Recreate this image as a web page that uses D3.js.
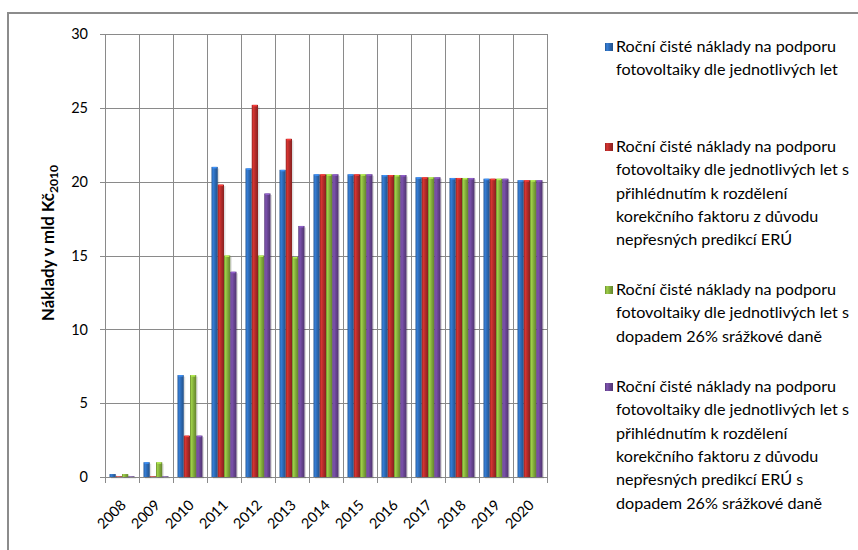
<!DOCTYPE html>
<html><head><meta charset="utf-8">
<script src="https://cdn.jsdelivr.net/npm/d3@7"></script>
<style>body{margin:0;background:#fff} svg{display:block}</style>
</head><body>
<svg id="c" width="858" height="550"></svg>
<script>
const years = ["2008","2009","2010","2011","2012","2013","2014","2015","2016","2017","2018","2019","2020"];
const blueValues   = [0.2, 1.0, 6.9, 21.0, 20.9, 20.8, 20.5, 20.5, 20.45, 20.3, 20.25, 20.2, 20.1];
const redValues    = [0.05, 0.05, 2.8, 19.8, 25.2, 22.9, 20.5, 20.5, 20.45, 20.3, 20.25, 20.2, 20.1];
const greenValues  = [0.2, 1.0, 6.9, 15.0, 15.0, 14.9, 20.5, 20.5, 20.45, 20.3, 20.25, 20.2, 20.1];
const purpleValues = [0.05, 0.05, 2.8, 13.9, 19.2, 17.0, 20.5, 20.5, 20.45, 20.3, 20.25, 20.2, 20.1];
const yTicks = [0, 5, 10, 15, 20, 25, 30];
const seriesKeys = ["blue", "red", "green", "purple"];
const seriesColors = ["#2d6ab5", "#b42c2a", "#84ae3c", "#6a4694"];
const legendLines = [
  ["Roční čisté náklady na podporu", "fotovoltaiky dle jednotlivých let"],
  ["Roční čisté náklady na podporu", "fotovoltaiky dle jednotlivých let s", "přihlédnutím k rozdělení", "korekčního faktoru z důvodu", "nepřesných predikcí ERÚ"],
  ["Roční čisté náklady na podporu", "fotovoltaiky dle jednotlivých let s", "dopadem 26% srážkové daně"],
  ["Roční čisté náklady na podporu", "fotovoltaiky dle jednotlivých let s", "přihlédnutím k rozdělení", "korekčního faktoru z důvodu", "nepřesných predikcí ERÚ s", "dopadem 26% srážkové daně"]
];
const yLabel = "Náklady v mld Kč";
const yLabelSub = "2010";

const seriesValues = [blueValues, redValues, greenValues, purpleValues];
const FONT = "Lato, 'Open Sans', sans-serif";
const svg = d3.select("#c");
svg.append("rect").attr("width", 858).attr("height", 550).attr("fill", "#fff");

// outer chart border
svg.append("path").attr("d", "M8,600 L8,13 L900,13").attr("fill", "none")
  .attr("stroke", "#8c8c8c").attr("stroke-width", 2);

const pL = 105, pR = 547, pT = 34, pB = 477;
const x = d3.scaleBand().domain(years).range([pL, pR]).padding(0);
const x1 = d3.scaleBand().domain(seriesKeys).range([4.5, 29.5]).padding(0);
const y = d3.scaleLinear().domain([0, 30]).range([pB, pT]);

const defs = svg.append("defs");
seriesColors.forEach((c, i) => {
  const base = d3.color(c);
  const g = defs.append("linearGradient").attr("id", "g" + i).attr("x1", 0).attr("x2", 1).attr("y1", 0).attr("y2", 0);
  g.append("stop").attr("offset", "0%").attr("stop-color", base.darker(0.6));
  g.append("stop").attr("offset", "25%").attr("stop-color", base.brighter(0.5));
  g.append("stop").attr("offset", "55%").attr("stop-color", base);
  g.append("stop").attr("offset", "100%").attr("stop-color", base.darker(0.8));
});

const grid = svg.append("g").attr("stroke", "#8a8a8a").attr("stroke-width", 1).attr("shape-rendering", "crispEdges");
yTicks.forEach(t => {
  grid.append("line").attr("x1", pL - 5).attr("x2", pR).attr("y1", Math.round(y(t)) + 0.5).attr("y2", Math.round(y(t)) + 0.5);
});
const bounds = years.map(d => x(d)).concat([pR]);
bounds.forEach(b => {
  grid.append("line").attr("x1", Math.round(b) + 0.5).attr("x2", Math.round(b) + 0.5).attr("y1", pT).attr("y2", pB + 6);
});

// y tick labels
svg.append("g").selectAll("text").data(yTicks).join("text")
  .attr("x", 88).attr("y", d => y(d)).attr("dy", "0.36em")
  .attr("text-anchor", "end").attr("font-family", FONT).attr("font-size", 14.5).attr("fill", "#000")
  .text(d => d);

// x labels
svg.append("g").selectAll("text").data(years).join("text")
  .attr("transform", d => `translate(${x(d) + x.bandwidth() / 2 + 5},${pB + 29}) rotate(-45)`)
  .attr("text-anchor", "end").attr("font-family", FONT).attr("font-size", 14.5).attr("fill", "#000")
  .text(d => d);

// bars
const barData = [];
years.forEach((yr, i) => seriesKeys.forEach((k, s) => barData.push({ yr, k, s, v: seriesValues[s][i] })));
const bars = svg.append("g");
bars.selectAll("rect.sh").data(barData).join("rect").attr("class", "sh")
  .attr("x", d => x(d.yr) + x1(d.k) + 1.5).attr("y", d => y(d.v) + 1.5)
  .attr("width", x1.bandwidth()).attr("height", d => pB - y(d.v))
  .attr("fill", "#000").attr("opacity", 0.13);
bars.selectAll("rect.b").data(barData).join("rect").attr("class", "b")
  .attr("x", d => x(d.yr) + x1(d.k)).attr("y", d => y(d.v))
  .attr("width", x1.bandwidth()).attr("height", d => pB - y(d.v))
  .attr("fill", d => `url(#g${d.s})`);
bars.selectAll("rect.cap").data(barData.filter(d => pB - y(d.v) > 3)).join("rect").attr("class", "cap")
  .attr("x", d => x(d.yr) + x1(d.k) + 1).attr("y", d => y(d.v))
  .attr("width", x1.bandwidth() - 2).attr("height", 1.5)
  .attr("fill", d => d3.color(seriesColors[d.s]).brighter(0.9));

// y axis label
const ylFont = 14;
const yl = svg.append("text").attr("transform", "translate(54,243) rotate(-90)")
  .attr("text-anchor", "middle").attr("font-family", FONT).attr("font-weight", "bold")
  .attr("font-size", ylFont).attr("fill", "#000");
yl.append("tspan").attr("class", "main").text(yLabel);
yl.append("tspan").attr("class", "sub").attr("font-size", ylFont * 0.72).attr("dy", 3.5).text(yLabelSub);
{
  const w = yl.node().getComputedTextLength();
  const k = 156 / w;
  yl.attr("font-size", (ylFont * k).toFixed(2));
  yl.select("tspan.sub").attr("font-size", (ylFont * 0.72 * k).toFixed(2)).attr("dy", (3.5 * k).toFixed(2));
}

// legend
const legendTops = [52, 152, 295, 392];
const lineH = 23.3;
const lg = svg.append("g");
let legendFont = 15;
legendLines.forEach((lines, s) => {
  lg.append("rect").attr("x", 605).attr("y", legendTops[s] - 9).attr("width", 8).attr("height", 8)
    .attr("fill", `url(#g${s})`);
  lines.forEach((ln, j) => {
    lg.append("text").attr("class", "lt").attr("x", 616).attr("y", legendTops[s] + j * lineH)
      .attr("font-family", FONT).attr("font-size", legendFont).attr("fill", "#000").text(ln);
  });
});
// calibrate legend font so "fotovoltaiky dle jednotlivých let" is ~222px wide
const probe = lg.selectAll("text.lt").filter(function () { return this.textContent === "fotovoltaiky dle jednotlivých let"; }).node();
if (probe) {
  const w = probe.getComputedTextLength();
  legendFont = legendFont * 222 / w;
  lg.selectAll("text.lt").attr("font-size", legendFont.toFixed(2));
}
</script>
</body></html>
